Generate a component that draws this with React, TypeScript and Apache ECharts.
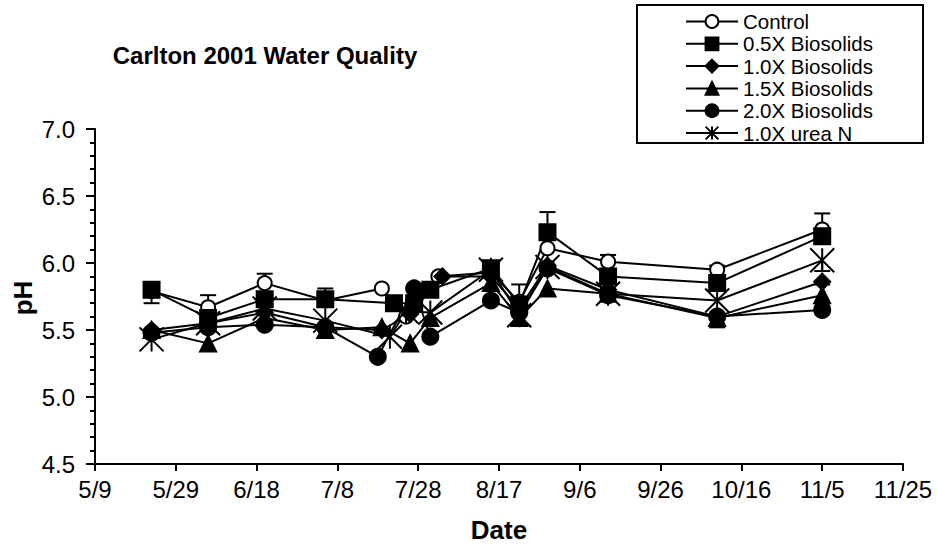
import React, { useEffect, useRef } from "react";
import * as echarts from "echarts";

const FONT = "'Liberation Sans', Arial, Helvetica, sans-serif";

const titleText = "Carlton 2001 Water Quality";
const xAxisTitle = "Date";
const yAxisTitle = "pH";

const xTickLabels = ["5/9", "5/29", "6/18", "7/8", "7/28", "8/17", "9/6", "9/26", "10/16", "11/5", "11/25"];

const seriesNames = ["Control", "0.5X Biosolids", "1.0X Biosolids", "1.5X Biosolids", "2.0X Biosolids", "1.0X urea N"];

const controlDates = ["5/23", "6/6", "6/20", "7/5", "7/19", "7/25", "8/2", "8/15", "8/22", "8/29", "9/13", "10/10", "11/5"];
const controlValues = [5.79, 5.67, 5.85, 5.72, 5.81, 5.6, 5.9, 5.93, 5.71, 6.11, 6.01, 5.95, 6.25];

const bio05Dates = ["5/23", "6/6", "6/20", "7/5", "7/22", "7/27", "7/31", "8/15", "8/22", "8/29", "9/13", "10/10", "11/5"];
const bio05Values = [5.8, 5.59, 5.73, 5.73, 5.7, 5.7, 5.8, 5.96, 5.69, 6.23, 5.9, 5.85, 6.2];

const bio10Dates = ["5/23", "6/6", "6/20", "7/5", "7/19", "7/26", "8/3", "8/15", "8/22", "8/29", "9/13", "10/10", "11/5"];
const bio10Values = [5.5, 5.55, 5.63, 5.52, 5.5, 5.62, 5.9, 5.9, 5.66, 5.98, 5.8, 5.6, 5.86];

const bio15Dates = ["5/23", "6/6", "6/20", "7/5", "7/19", "7/26", "7/31", "8/15", "8/22", "8/29", "9/13", "10/10", "11/5"];
const bio15Values = [5.5, 5.4, 5.59, 5.5, 5.52, 5.4, 5.59, 5.85, 5.59, 5.81, 5.77, 5.59, 5.76];

const bio20Dates = ["5/23", "6/6", "6/20", "7/5", "7/18", "7/27", "7/31", "8/15", "8/22", "8/29", "9/13", "10/10", "11/5"];
const bio20Values = [5.48, 5.52, 5.54, 5.52, 5.3, 5.81, 5.45, 5.72, 5.63, 5.96, 5.76, 5.6, 5.65];

const ureaDates = ["5/23", "6/6", "6/20", "7/5", "7/21", "7/25", "7/31", "8/15", "8/22", "8/29", "9/13", "10/10", "11/5"];
const ureaValues = [5.43, 5.55, 5.66, 5.57, 5.45, 5.64, 5.63, 5.95, 5.61, 5.97, 5.77, 5.72, 6.02];

// error bars: date, point value, cap value
const errDates = ["5/23", "6/6", "6/20", "7/5", "8/22", "8/29", "9/13", "10/10", "10/10", "11/5", "11/5", "11/5"];
const errFrom = [5.8, 5.67, 5.85, 5.73, 5.69, 6.23, 6.01, 5.95, 5.59, 6.2, 6.02, 5.76];
const errTo = [5.7, 5.76, 5.92, 5.81, 5.84, 6.38, 6.06, 5.98, 5.52, 6.37, 5.94, 5.84];

const monthStart = [0, 31, 59, 90, 120, 151, 181, 212, 243, 273, 304, 334];
const BASE = 129; // day of year of 5/9
const toDay = (s: string) => {
  const [m, d] = s.split("/").map(Number);
  return monthStart[m - 1] + d - BASE;
};

const ASTERISK = "path://M0,0L10,10M10,0L0,10M5,0L5,10";

export default function App() {
  const ref = useRef<HTMLDivElement>(null);
  useEffect(() => {
    if (!ref.current) return;
    const chart = echarts.init(ref.current, null, { renderer: "svg" });

    const allDates = [controlDates, bio05Dates, bio10Dates, bio15Dates, bio20Dates, ureaDates];
    const allValues = [controlValues, bio05Values, bio10Values, bio15Values, bio20Values, ureaValues];
    const symbols = ["circle", "rect", "diamond", "triangle", "circle", ASTERISK];
    const sizes = [14, 16, 16, 16, 16, 24];
    const fills = ["#fff", "#000", "#000", "#000", "#000", "#000"];

    const lineSeries = seriesNames.map((name, i) => ({
      name,
      type: "line",
      data: allDates[i].map((d, j) => [toDay(d), allValues[i][j]]),
      symbol: symbols[i],
      symbolSize: sizes[i],
      showAllSymbol: true,
      lineStyle: { color: "#000", width: 2 },
      itemStyle: { color: fills[i], borderColor: "#000", borderWidth: 2 },
      z: 3,
    }));

    const errSeries = {
      type: "custom",
      name: "err",
      z: 2,
      data: errDates.map((d, i) => [toDay(d), errFrom[i], errTo[i]]),
      renderItem: (params: any, api: any) => {
        const p = api.coord([api.value(0), api.value(1)]);
        const q = api.coord([api.value(0), api.value(2)]);
        const st = { stroke: "#000", lineWidth: 2 };
        return {
          type: "group",
          children: [
            { type: "line", shape: { x1: p[0], y1: p[1], x2: q[0], y2: q[1] }, style: st },
            { type: "line", shape: { x1: q[0] - 8, y1: q[1], x2: q[0] + 8, y2: q[1] }, style: st },
          ],
        };
      },
    };

    chart.setOption({
      animation: false,
      textStyle: { fontFamily: FONT },
      grid: { left: 95, right: 34, top: 129, bottom: 94 },
      legend: {
        data: seriesNames,
        orient: "vertical",
        left: 685,
        top: 11,
        itemWidth: 52,
        itemHeight: 16,
        itemGap: 1.3,
        padding: 0,
        textStyle: { fontSize: 20.5, lineHeight: 20, color: "#000", fontFamily: FONT },
      },
      xAxis: {
        type: "value",
        min: 0,
        max: 200,
        interval: 20,
        axisLine: { show: true, lineStyle: { color: "#000", width: 2 } },
        axisTick: { show: true, length: 7, lineStyle: { color: "#000", width: 2 } },
        axisLabel: {
          margin: 13,
          fontSize: 24,
          color: "#000",
          fontFamily: FONT,
          formatter: (v: number) => xTickLabels[Math.round(v / 20)] ?? "",
        },
        splitLine: { show: false },
      },
      yAxis: {
        type: "value",
        min: 4.5,
        max: 7.0,
        interval: 0.5,
        axisLine: { show: true, lineStyle: { color: "#000", width: 2 } },
        axisTick: { show: true, length: 9, lineStyle: { color: "#000", width: 2 } },
        minorTick: { show: true, splitNumber: 5, length: 5, lineStyle: { color: "#000", width: 2 } },
        axisLabel: {
          margin: 20,
          fontSize: 24,
          color: "#000",
          fontFamily: FONT,
          formatter: (v: number) => v.toFixed(1),
        },
        splitLine: { show: false },
        minorSplitLine: { show: false },
      },
      graphic: [
        {
          type: "text",
          x: 265,
          y: 55,
          style: {
            text: titleText,
            font: `bold 24px ${FONT}`,
            fill: "#000",
            textAlign: "center",
            textVerticalAlign: "middle",
          },
        },
        {
          type: "text",
          x: 499,
          y: 530,
          style: {
            text: xAxisTitle,
            font: `bold 26px ${FONT}`,
            fill: "#000",
            textAlign: "center",
            textVerticalAlign: "middle",
          },
        },
        {
          type: "text",
          x: 23,
          y: 298,
          rotation: Math.PI / 2,
          style: {
            text: yAxisTitle,
            font: `bold 26px ${FONT}`,
            fill: "#000",
            textAlign: "center",
            textVerticalAlign: "middle",
          },
        },
        {
          type: "rect",
          shape: { x: 637, y: 5, width: 286, height: 138 },
          style: { fill: "none", stroke: "#000", lineWidth: 2 },
        },
      ],
      series: [errSeries, ...lineSeries],
    });
    return () => chart.dispose();
  }, []);

  return (
    <div
      ref={ref}
      style={{ position: "fixed", left: 0, top: 0, width: 937, height: 558, background: "#fff" }}
    />
  );
}
